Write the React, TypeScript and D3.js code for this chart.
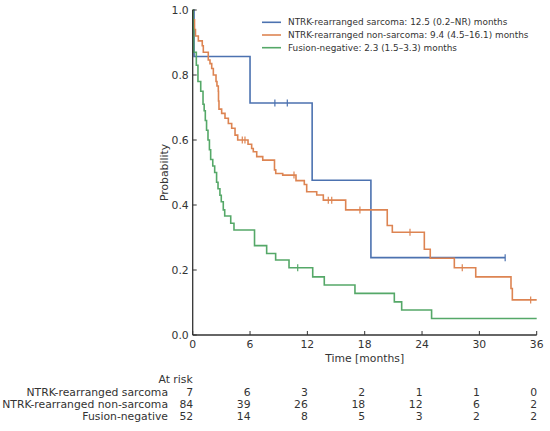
import * as d3 from 'd3';

// Kaplan–Meier steps: [time (months), survival probability after the step]
const sarcomaSteps: [number, number][] = [
  [0, 1], [0.14, 0.857], [6.0, 0.714], [12.5, 0.476], [18.65, 0.238], [32.7, 0.238],
];
const sarcomaCensored = [8.6, 9.9, 32.7];

const nonSarcomaSteps: [number, number][] = [
  [0, 1], [0.03, 0.97], [0.19, 0.94], [0.29, 0.92], [0.59, 0.905], [1.0, 0.89],
  [1.11, 0.87], [1.63, 0.846], [1.81, 0.835], [1.99, 0.82], [2.16, 0.8],
  [2.44, 0.78], [2.54, 0.766], [2.68, 0.75], [2.7, 0.72], [2.75, 0.695],
  [3.03, 0.682], [3.38, 0.667], [3.73, 0.651], [4.08, 0.636], [4.43, 0.615],
  [4.71, 0.6], [5.79, 0.587], [6.17, 0.574], [6.34, 0.564], [6.7, 0.549],
  [7.33, 0.538], [8.56, 0.508], [8.69, 0.497], [9.42, 0.492], [10.81, 0.475],
  [11.68, 0.463], [11.93, 0.441], [12.98, 0.431], [13.67, 0.415], [16.01, 0.385],
  [20.36, 0.337], [20.89, 0.316], [24.24, 0.264], [24.86, 0.236], [27.38, 0.207],
  [29.62, 0.179], [33.31, 0.143], [33.45, 0.108], [36, 0.108],
];
const nonSarcomaCensored = [5.19, 5.47, 10.6, 14.19, 14.55, 17.5, 22.74, 28.21, 35.37];

const fusionNegSteps: [number, number][] = [
  [0, 1], [0.05, 0.94], [0.1, 0.87], [0.38, 0.83], [0.55, 0.78], [0.84, 0.75],
  [1.08, 0.71], [1.2, 0.69], [1.32, 0.66], [1.45, 0.63], [1.6, 0.6], [1.75, 0.57],
  [1.88, 0.54], [2.1, 0.52], [2.3, 0.5], [2.5, 0.47], [2.65, 0.45], [2.85, 0.43],
  [2.99, 0.41], [3.2, 0.385], [3.35, 0.366], [3.98, 0.344], [4.32, 0.323],
  [6.47, 0.275], [7.74, 0.251], [8.68, 0.231], [10.08, 0.207], [12.56, 0.179],
  [13.77, 0.154], [16.98, 0.128], [21.1, 0.102], [21.87, 0.077], [25.0, 0.051],
  [36, 0.051],
];
const fusionNegCensored = [10.99];

const groupNames = ['NTRK-rearranged sarcoma', 'NTRK-rearranged non-sarcoma', 'Fusion-negative'];
const legendLabels = [
  'NTRK-rearranged sarcoma: 12.5 (0.2–NR) months',
  'NTRK-rearranged non-sarcoma: 9.4 (4.5–16.1) months',
  'Fusion-negative: 2.3 (1.5–3.3) months',
];
const colors = ['#4c72b0', '#dd8452', '#55a868'];

const xTicks = [0, 6, 12, 18, 24, 30, 36];
const yTicks = [0, 0.2, 0.4, 0.6, 0.8, 1.0];
const atRisk = [
  [7, 6, 3, 2, 1, 1, 0],
  [84, 39, 26, 18, 12, 6, 2],
  [52, 14, 8, 5, 3, 2, 2],
];

const W = 550;
const H = 431;
const margin = { left: 192.7, right: 13.3, top: 10, bottom: 96 };
const font = 'DejaVu Sans, sans-serif';
const textColor = '#333';
const fs = 10.8;

export default function App() {
  const x = d3.scaleLinear().domain([0, 36]).range([margin.left, W - margin.right]);
  const y = d3.scaleLinear().domain([0, 1]).range([H - margin.bottom, margin.top]);
  const line = d3
    .line<[number, number]>()
    .x((d) => x(d[0]))
    .y((d) => y(d[1]))
    .curve(d3.curveStepAfter);

  const series = [
    { steps: sarcomaSteps, censored: sarcomaCensored },
    { steps: nonSarcomaSteps, censored: nonSarcomaCensored },
    { steps: fusionNegSteps, censored: fusionNegCensored },
  ];
  const survivalAt = (steps: [number, number][], t: number) => {
    const i = d3.bisector((d: [number, number]) => d[0]).right(steps, t) - 1;
    return steps[Math.max(0, i)][1];
  };

  const x0 = x(0);
  const yBase = y(0);

  return (
    <svg
      width={W}
      height={H}
      style={{ position: 'absolute', left: 0, top: 0, background: '#fff' }}
      fontFamily={font}
    >
      {/* curves */}
      {series.map((s, i) => (
        <g key={i}>
          <path d={line(s.steps) ?? ''} fill="none" stroke={colors[i]} strokeWidth={1.6} />
          {s.censored.map((t, j) => (
            <line
              key={j}
              x1={x(t)}
              x2={x(t)}
              y1={y(survivalAt(s.steps, t)) - 3.5}
              y2={y(survivalAt(s.steps, t)) + 3.5}
              stroke={colors[i]}
              strokeWidth={1.2}
            />
          ))}
        </g>
      ))}

      {/* axes */}
      <line x1={x0} x2={x0} y1={y(1)} y2={yBase} stroke="#333" strokeWidth={1.3} />
      <line x1={x0} x2={x(36)} y1={yBase} y2={yBase} stroke="#333" strokeWidth={1.3} />
      {yTicks.map((t) => (
        <g key={t}>
          <line x1={x0} x2={x0 + 4} y1={y(t)} y2={y(t)} stroke="#333" strokeWidth={1} />
          <text x={x0 - 4} y={y(t)} dy="0.35em" textAnchor="end" fontSize={fs} fill={textColor}>
            {d3.format('.1f')(t)}
          </text>
        </g>
      ))}
      {xTicks.map((t) => (
        <g key={t}>
          <line x1={x(t)} x2={x(t)} y1={yBase} y2={yBase - 4} stroke="#333" strokeWidth={1} />
          <text x={x(t)} y={yBase + 9} dy="0.35em" textAnchor="middle" fontSize={fs} fill={textColor}>
            {t}
          </text>
        </g>
      ))}
      <text
        x={(x(0) + x(36)) / 2}
        y={358.5}
        dy="0.35em"
        textAnchor="middle"
        fontSize={fs}
        fill={textColor}
      >
        Time [months]
      </text>
      <text
        transform={`translate(164,${(y(0) + y(1)) / 2}) rotate(-90)`}
        dy="0.35em"
        textAnchor="middle"
        fontSize={fs}
        fill={textColor}
      >
        Probability
      </text>

      {/* legend */}
      {legendLabels.map((label, i) => (
        <g key={label} transform={`translate(262, ${22.3 + i * 12.7})`}>
          <line x1={0} x2={19} y1={0} y2={0} stroke={colors[i]} strokeWidth={1.6} />
          <text x={26} y={0} dy="0.35em" fontSize={8.9} fill={textColor}>
            {label}
          </text>
        </g>
      ))}

      {/* at-risk table */}
      <text x={x0} y={379} dy="0.35em" textAnchor="end" fontSize={fs} fill={textColor}>
        At risk
      </text>
      {groupNames.map((name, i) => (
        <g key={name}>
          <text x={168} y={392.3 + i * 12} dy="0.35em" textAnchor="end" fontSize={fs} fill={textColor}>
            {name}
          </text>
          {atRisk[i].map((n, j) => (
            <text
              key={j}
              x={x(xTicks[j]) + 0.5}
              y={392.3 + i * 12}
              dy="0.35em"
              textAnchor="end"
              fontSize={fs}
              fill={textColor}
            >
              {n}
            </text>
          ))}
        </g>
      ))}
    </svg>
  );
}
